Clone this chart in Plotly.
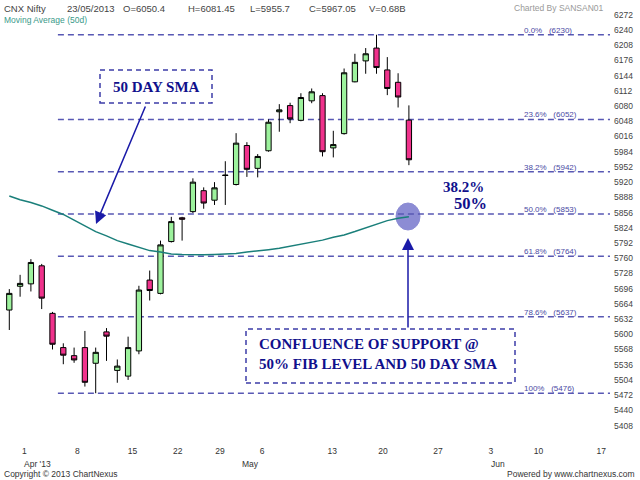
import plotly.graph_objects as go

# daily candles, 26 Mar .. 23 May 2013 (trading-day index on x)
dates = ["26/03", "28/03", "01/04", "02/04", "03/04", "04/04", "05/04", "08/04",
         "09/04", "10/04", "11/04", "12/04", "15/04", "16/04", "17/04", "18/04",
         "22/04", "23/04", "25/04", "26/04", "29/04", "30/04", "02/05", "03/05",
         "06/05", "07/05", "08/05", "09/05", "10/05", "13/05", "14/05", "15/05",
         "16/05", "17/05", "20/05", "21/05", "22/05", "23/05"]
opens = [5651, 5701, 5706, 5744, 5644, 5572, 5555, 5572, 5539, 5605, 5524, 5512,
         5565, 5714, 5686, 5795, 5845, 5858, 5902, 5882, 5935, 5915, 5997, 5949,
         5986, 6068, 6081, 6050, 6091, 6102, 5992, 6022, 6131, 6175, 6202, 6156,
         6130, 6050.4]
highs = [5695, 5725, 5758, 5748, 5647, 5581, 5572, 5607, 5572, 5613, 5547, 5595,
         5702, 5734, 5797, 5847, 5847, 5928, 5909, 5920, 5964, 6023, 6004, 5979,
         6052, 6084, 6087, 6107, 6117, 6107, 6028, 6159, 6190, 6202, 6230, 6183,
         6149, 6081.45]
lows = [5609, 5679, 5690, 5653, 5568, 5537, 5540, 5490, 5476, 5544, 5498, 5504,
        5558, 5671, 5684, 5793, 5797, 5855, 5864, 5872, 5872, 5913, 5931, 5930,
        5984, 6026, 6044, 6048, 6086, 5974, 5972, 6020, 6130, 6148, 6148, 6103,
        6077, 5955.7]
closes = [5686, 5707, 5751, 5676, 5579, 5556, 5546, 5499, 5562, 5596, 5533, 5572,
          5693, 5692, 5788, 5837, 5842, 5920, 5876, 5908, 5934, 6002, 5947, 5974,
          6046, 6072, 6053, 6098, 6110, 5984, 5999, 6150, 6172, 6190, 6161, 6117,
          6099, 5967.05]
sma50 = [5891, 5883, 5877, 5870, 5861, 5852, 5840, 5828, 5816, 5807, 5797, 5790,
         5783, 5776, 5773, 5769, 5768, 5767, 5767, 5768, 5769, 5770, 5773, 5775,
         5778, 5781, 5785, 5789, 5793, 5798, 5804, 5809, 5816, 5824, 5832, 5839,
         5844, 5847]

fib_pct = ["0.0%", "23.6%", "38.2%", "50.0%", "61.8%", "78.6%", "100%"]
fib_price = [6230, 6052, 5942, 5853, 5764, 5637, 5476]

price_ticks = list(range(5408, 6273, 32))
day_labels = ["1", "8", "15", "22", "29", "6", "13", "20", "27", "3", "10", "17"]
day_pos = [1.4, 6.3, 11.4, 15.6, 19.5, 23.4, 29.9, 34.6, 39.7, 44.6, 49.0, 54.8]
month_labels = ["Apr '13", "May", "Jun"]
month_pos = [1.2, 21.4, 44.4]

idx = list(range(len(dates)))

GREEN = "#9df29d"
PINK = "#f0328c"
NAVY = "#10108c"
BOXLINE = "#3c3ca8"
FIBLINE = "#5858b4"
TEAL = "#1a7f7a"
SANS = "Liberation Sans"
SERIF = "Liberation Serif"

# plot area is 610 x 442 px, helpers for placing the hand drawn notes
PW, PH = 610, 442


def pxx(x):
    return x / PW


def pxy(y):
    return (PH - y) / PH


def note(x, y, text, size, family, color, xanchor="center"):
    fig.add_annotation(xref="paper", yref="paper", x=pxx(x), y=pxy(y),
                       xanchor=xanchor, yanchor="middle", align="left",
                       text=text, showarrow=False,
                       font=dict(family=family, size=size, color=color))


fig = go.Figure()

fig.add_trace(go.Candlestick(
    x=idx, open=opens, high=highs, low=lows, close=closes,
    increasing=dict(fillcolor=GREEN, line=dict(color="black", width=1)),
    decreasing=dict(fillcolor=PINK, line=dict(color="black", width=1)),
    whiskerwidth=0, hoverinfo="skip", showlegend=False,
))
fig.add_trace(go.Scatter(
    x=idx, y=sma50, mode="lines", line=dict(color=TEAL, width=1.5),
    hoverinfo="skip", showlegend=False,
))

# fibonacci retracement levels
for pct, price in zip(fib_pct, fib_price):
    fig.add_shape(type="line", xref="x", yref="y", x0=4.5, x1=55.62,
                  y0=price, y1=price, layer="below",
                  line=dict(color=FIBLINE, width=1.5, dash="6px,4px"))
    fig.add_annotation(xref="paper", yref="y", x=pxx(522), y=price,
                       xanchor="left", yanchor="bottom", yshift=-2,
                       text=pct + "\u00a0\u00a0\u00a0(" + str(price) + ")",
                       showarrow=False,
                       font=dict(family=SANS, size=8, color="#4a4aa4"))

# header
header_text = ["CNX Nifty", "23/05/2013", "O=" + str(opens[-1]), "H=" + str(highs[-1]),
               "L=" + str(lows[-1]), "C=" + str(closes[-1]), "V=0.68B"]
header_x = [2, 65, 121, 186, 248, 307, 367]
for t, x in zip(header_text, header_x):
    note(x, 8, t, 9.5, SANS, "#444444", "left")
note(2, 20, "Moving Average (50d)", 8.5, SANS, "#3a9a8a", "left")
note(606, 8, "Charted By SANSAN01", 8.5, SANS, "#999999", "right")

# month labels under the day ticks
for t, x in zip(month_labels, month_pos):
    fig.add_annotation(xref="x", yref="paper", x=x, y=pxy(464),
                       xanchor="left", yanchor="middle", text=t, showarrow=False,
                       font=dict(family=SANS, size=8.5, color="#333333"))

# footer
note(2, 474, "Copyright \u00a9 2013 ChartNexus", 8.5, SANS, "#333333", "left")
note(637, 474, "Powered by www.chartnexus.com", 8.5, SANS, "#333333", "right")

# "50 DAY SMA" note
fig.add_shape(type="rect", xref="paper", yref="paper",
              x0=pxx(100), x1=pxx(212), y0=pxy(103), y1=pxy(70),
              line=dict(color=BOXLINE, width=1.5, dash="5px,4px"))
note(156, 87, "<b>50 DAY SMA</b>", 15, SERIF, NAVY)
fig.add_annotation(xref="paper", yref="paper", x=pxx(96), y=pxy(224),
                   ax=50, ay=-119, text="", showarrow=True,
                   arrowhead=2, arrowsize=1.6, arrowwidth=1.5, arrowcolor="#1a1aa8")

# confluence note
fig.add_shape(type="rect", xref="paper", yref="paper",
              x0=pxx(246), x1=pxx(515), y0=pxy(383), y1=pxy(329),
              line=dict(color=BOXLINE, width=1.5, dash="5px,4px"))
note(257, 354, "<b>CONFLUENCE OF SUPPORT @<br>50% FIB LEVEL AND 50 DAY SMA</b>",
     15, SERIF, NAVY, "left")
fig.add_annotation(xref="paper", yref="paper", x=pxx(408), y=pxy(238),
                   ax=0, ay=91, text="", showarrow=True,
                   arrowhead=2, arrowsize=1.6, arrowwidth=1.5, arrowcolor="#1a1aa8")

# highlight where price meets the 50% level and the SMA
fig.add_shape(type="circle", xref="paper", yref="paper",
              x0=pxx(396), x1=pxx(420), y0=pxy(230), y1=pxy(203),
              fillcolor="#8c8cd4", line=dict(color="#8c8cd4", width=1), layer="below")

note(463, 187, "<b>38.2%</b>", 15, SERIF, NAVY)
note(471, 203, "<b>50%</b>", 16.5, SERIF, NAVY)

fig.update_layout(
    width=640, height=480,
    margin=dict(l=0, r=30, t=0, b=38),
    paper_bgcolor="white", plot_bgcolor="white",
    showlegend=False,
    xaxis=dict(range=[-0.861, 55.62], tickvals=day_pos, ticktext=day_labels,
               showgrid=False, zeroline=False, showline=False, ticks="",
               ticklabelstandoff=2,
               rangeslider=dict(visible=False),
               tickfont=dict(family=SANS, size=8.5, color="#333333")),
    yaxis=dict(range=[5373.4, 6303.1], side="right", tickvals=price_ticks,
               showgrid=False, zeroline=False, showline=False, ticks="",
               ticklabelstandoff=3,
               tickfont=dict(family=SANS, size=8.5, color="#444444")),
)

fig.write_html("out.html", config={"displayModeBar": False},
               post_script="document.body.style.margin='0px';")
